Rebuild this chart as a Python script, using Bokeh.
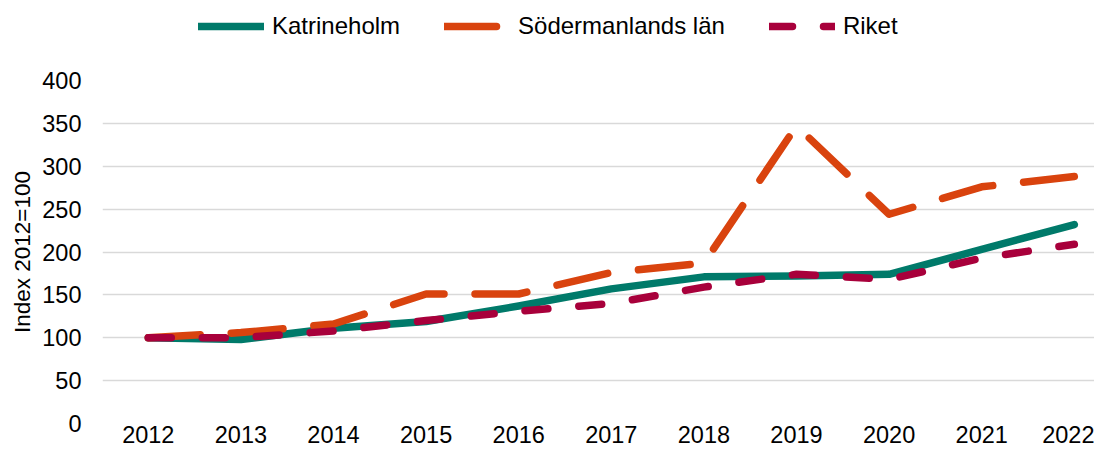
from bokeh.plotting import figure
from bokeh.models import Range1d, FixedTicker, Legend, LegendItem
from bokeh.layouts import column
from bokeh.embed import file_html
from bokeh.resources import INLINE

years = [2012, 2013, 2014, 2015, 2016, 2017, 2018, 2019, 2020, 2021, 2022]
katrineholm = [100, 98, 111, 119, 137, 157, 171, 172, 174, 203, 232]
sodermanland = [100, 106, 116, 151, 151, 176, 187, 347, 244, 276, 288]
riket = [100, 100, 108, 120, 131, 140, 159, 174, 168, 193, 209]
y_ticks = [0, 50, 100, 150, 200, 250, 300, 350, 400]
series_names = ["Katrineholm", "Södermanlands län", "Riket"]

FONT = "Liberation Sans, Arial, sans-serif"
C_GREEN = "#007A6A"
C_ORANGE = "#D9430E"
C_CRIMSON = "#A8003B"
LW = 7.5
styles = [dict(line_color=C_GREEN),
          dict(line_color=C_ORANGE, line_dash="52 31"),
          dict(line_color=C_CRIMSON, line_dash="23 31")]
series = [katrineholm, sodermanland, riket]

W = 1094
LEFT = 102
LG_H = 66

# ---- legend strip (top) ----
lg = figure(width=W, height=LG_H, output_backend="svg", toolbar_location=None,
            title_location=None, x_axis_location=None, y_axis_location=None,
            x_range=Range1d(0, 1), y_range=Range1d(0, 1),
            min_border_left=LEFT, min_border_right=0, min_border_top=0, min_border_bottom=0)
lg.outline_line_color = None
lg.grid.visible = False
lg.background_fill_color = "white"
lg.border_fill_color = "white"
items = []
for name, vals, st in zip(series_names, series, styles):
    r = lg.line(years, vals, line_width=LW, line_cap="round", line_join="round", **st)
    items.append(LegendItem(label=name, renderers=[r]))
legend = Legend(items=items, orientation="horizontal", location=(96, LG_H - 41))
legend.border_line_color = None
legend.background_fill_alpha = 0
legend.padding = 0
legend.margin = 0
legend.spacing = 44
legend.glyph_width = 66
legend.glyph_height = 30
legend.label_height = 30
legend.label_standoff = 8
legend.label_text_font = FONT
legend.label_text_font_size = "24px"
legend.label_text_color = "#000000"
lg.add_layout(legend, "center")

# ---- main chart ----
p = figure(width=W, height=452 - LG_H, output_backend="svg", toolbar_location=None,
           title_location=None,
           x_range=Range1d(2011.5054, 2022.218), y_range=Range1d(0, 400),
           min_border_left=LEFT, min_border_right=0, min_border_top=14, min_border_bottom=29)
p.outline_line_color = None
p.background_fill_color = "white"
p.border_fill_color = "white"

p.xgrid.grid_line_color = None
p.ygrid.grid_line_color = "#D9D9D9"
p.ygrid.grid_line_width = 1.5
p.yaxis.ticker = FixedTicker(ticks=y_ticks)
p.xaxis.ticker = FixedTicker(ticks=years)

for ax in (p.xaxis, p.yaxis):
    ax.axis_line_color = None
    ax.major_tick_line_color = None
    ax.minor_tick_line_color = None
    ax.major_tick_out = 0
    ax.major_tick_in = 0
    ax.major_label_text_font = FONT
    ax.major_label_text_font_size = "23.5px"
    ax.major_label_text_color = "#000000"

p.xaxis.major_label_standoff = 2
p.yaxis.major_label_standoff = 21
p.yaxis.axis_label = "Index 2012=100"
p.yaxis.axis_label_text_font = FONT
p.yaxis.axis_label_text_font_size = "22.5px"
p.yaxis.axis_label_text_font_style = "normal"
p.yaxis.axis_label_text_color = "#000000"
p.yaxis.axis_label_standoff = 4

for vals, st in zip(series, styles):
    p.line(years, vals, line_width=LW, line_cap="round", line_join="round", **st)

layout = column(lg, p, spacing=0)
open("out.html", "w").write(file_html(layout, INLINE))
